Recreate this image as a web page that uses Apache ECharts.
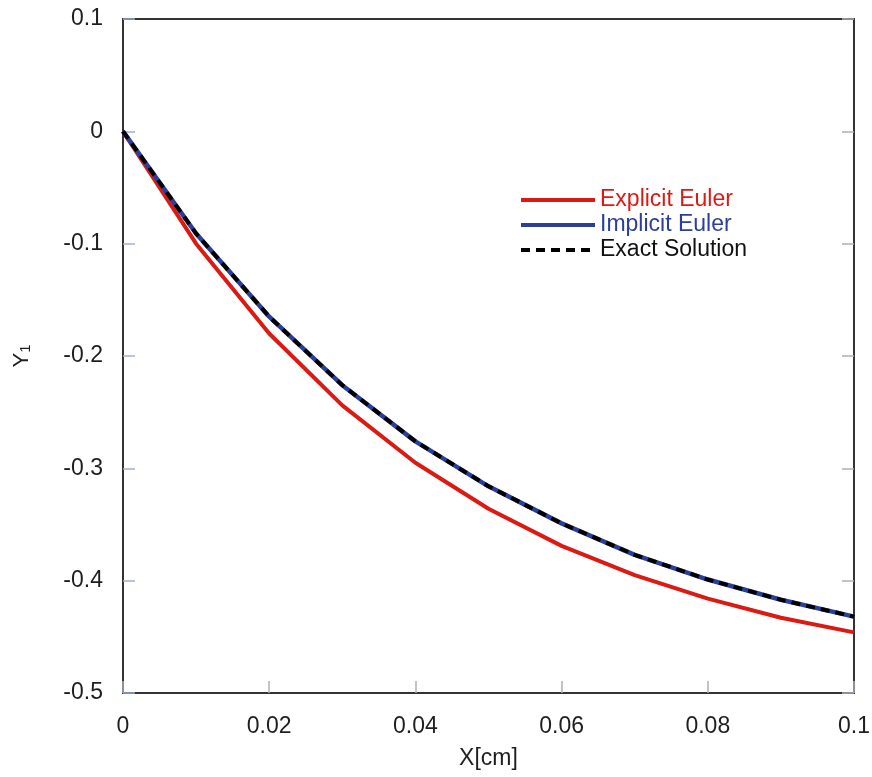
<!DOCTYPE html>
<html>
<head>
<meta charset="utf-8">
<script src="https://cdn.jsdelivr.net/npm/echarts@6/dist/echarts.min.js"></script>
<style>
  html, body { margin: 0; padding: 0; background: #fff; }
  #chart { width: 872px; height: 777px; }
</style>
</head>
<body>
<div id="chart"></div>
<script>
// Position along the domain, cm
const xValues = [0, 0.01, 0.02, 0.03, 0.04, 0.05, 0.06, 0.07, 0.08, 0.09, 0.1];
// Y1 for each method
const explicitEuler = [0, -0.100, -0.180, -0.244, -0.295, -0.336, -0.369, -0.395, -0.416, -0.433, -0.446];
const implicitEuler = [0, -0.091, -0.165, -0.226, -0.276, -0.316, -0.349, -0.377, -0.399, -0.417, -0.432];
const exactSolution = [0, -0.091, -0.165, -0.226, -0.276, -0.316, -0.349, -0.377, -0.399, -0.417, -0.432];
const seriesNames = ['Explicit Euler', 'Implicit Euler', 'Exact Solution'];
const xTicks = [0, 0.02, 0.04, 0.06, 0.08, 0.1];
const yTicks = [-0.5, -0.4, -0.3, -0.2, -0.1, 0, 0.1];

const FONT = '"Liberation Sans", Arial, Helvetica, sans-serif';
const RED = '#dc1a14';
const BLUE = '#2b3f9a';
const TEXT = '#1e1e1e';

const pairs = arr => xValues.map((x, i) => [x, arr[i]]);
const fmt = v => String(Math.round(v * 100) / 100);

const chart = echarts.init(document.getElementById('chart'), null, { renderer: 'canvas' });
chart.setOption({
  backgroundColor: '#ffffff',
  animation: false,
  grid: {
    left: 123, right: 18, top: 19, bottom: 84,
    outerBoundsMode: 'none', containLabel: false,
    show: true, borderColor: '#333', borderWidth: 2, backgroundColor: 'transparent'
  },
  legend: {
    orient: 'vertical',
    left: 514, top: 183,
    itemWidth: 74, itemHeight: 14, itemGap: 1,
    itemStyle: { opacity: 0 },
    lineStyle: { width: 4 },
    textStyle: { fontFamily: FONT, fontSize: 23, lineHeight: 24 },
    data: [
      { name: seriesNames[0], textStyle: { color: RED } },
      { name: seriesNames[1], textStyle: { color: BLUE } },
      { name: seriesNames[2], textStyle: { color: '#111' } }
    ]
  },
  xAxis: {
    type: 'value',
    min: xTicks[0], max: xTicks[xTicks.length - 1], interval: 0.02,
    name: 'X[cm]', nameLocation: 'middle', nameGap: 54,
    nameTextStyle: { fontFamily: FONT, fontSize: 23, color: TEXT },
    axisLine: { show: false, onZero: false },
    axisTick: { show: true, inside: true, length: 12, lineStyle: { color: '#aab0bb', width: 1.5 } },
    axisLabel: { fontFamily: FONT, fontSize: 23, color: TEXT, margin: 22, formatter: fmt },
    splitLine: { show: false }
  },
  yAxis: [{
    type: 'value',
    min: yTicks[0], max: yTicks[yTicks.length - 1], interval: 0.1,
    name: '{a|Y}{b|1}', nameLocation: 'middle', nameGap: 90, nameRotate: 90,
    nameTextStyle: {
      fontFamily: FONT, color: TEXT,
      rich: {
        a: { fontFamily: FONT, fontSize: 22, color: TEXT },
        b: { fontFamily: FONT, fontSize: 15, color: TEXT, verticalAlign: 'bottom', lineHeight: 15, padding: [9, 0, 0, 0] }
      }
    },
    axisLine: { show: false, onZero: false },
    axisTick: { show: true, inside: true, length: 12, lineStyle: { color: '#9fb0d0', width: 1.5 } },
    axisLabel: { fontFamily: FONT, fontSize: 23, color: TEXT, margin: 20, formatter: fmt },
    splitLine: { show: false }
  }, {
    type: 'value', position: 'right',
    min: yTicks[0], max: yTicks[yTicks.length - 1], interval: 0.1,
    axisLine: { show: false, onZero: false },
    axisTick: { show: true, inside: true, length: 12, lineStyle: { color: '#aab0c0', width: 1.5 } },
    axisLabel: { show: false },
    splitLine: { show: false }
  }],
  series: [
    {
      name: seriesNames[0], type: 'line', data: pairs(explicitEuler),
      showSymbol: false, symbol: 'none', z: 2,
      lineStyle: { color: RED, width: 4 }, itemStyle: { color: RED }
    },
    {
      name: seriesNames[1], type: 'line', data: pairs(implicitEuler),
      showSymbol: false, symbol: 'none', z: 3,
      lineStyle: { color: BLUE, width: 4.5 }, itemStyle: { color: BLUE }
    },
    {
      name: seriesNames[2], type: 'line', data: pairs(exactSolution),
      showSymbol: false, symbol: 'none', z: 4,
      lineStyle: { color: '#000', width: 4, type: [9, 6] }, itemStyle: { color: '#000' }
    }
  ]
});
</script>
</body>
</html>
